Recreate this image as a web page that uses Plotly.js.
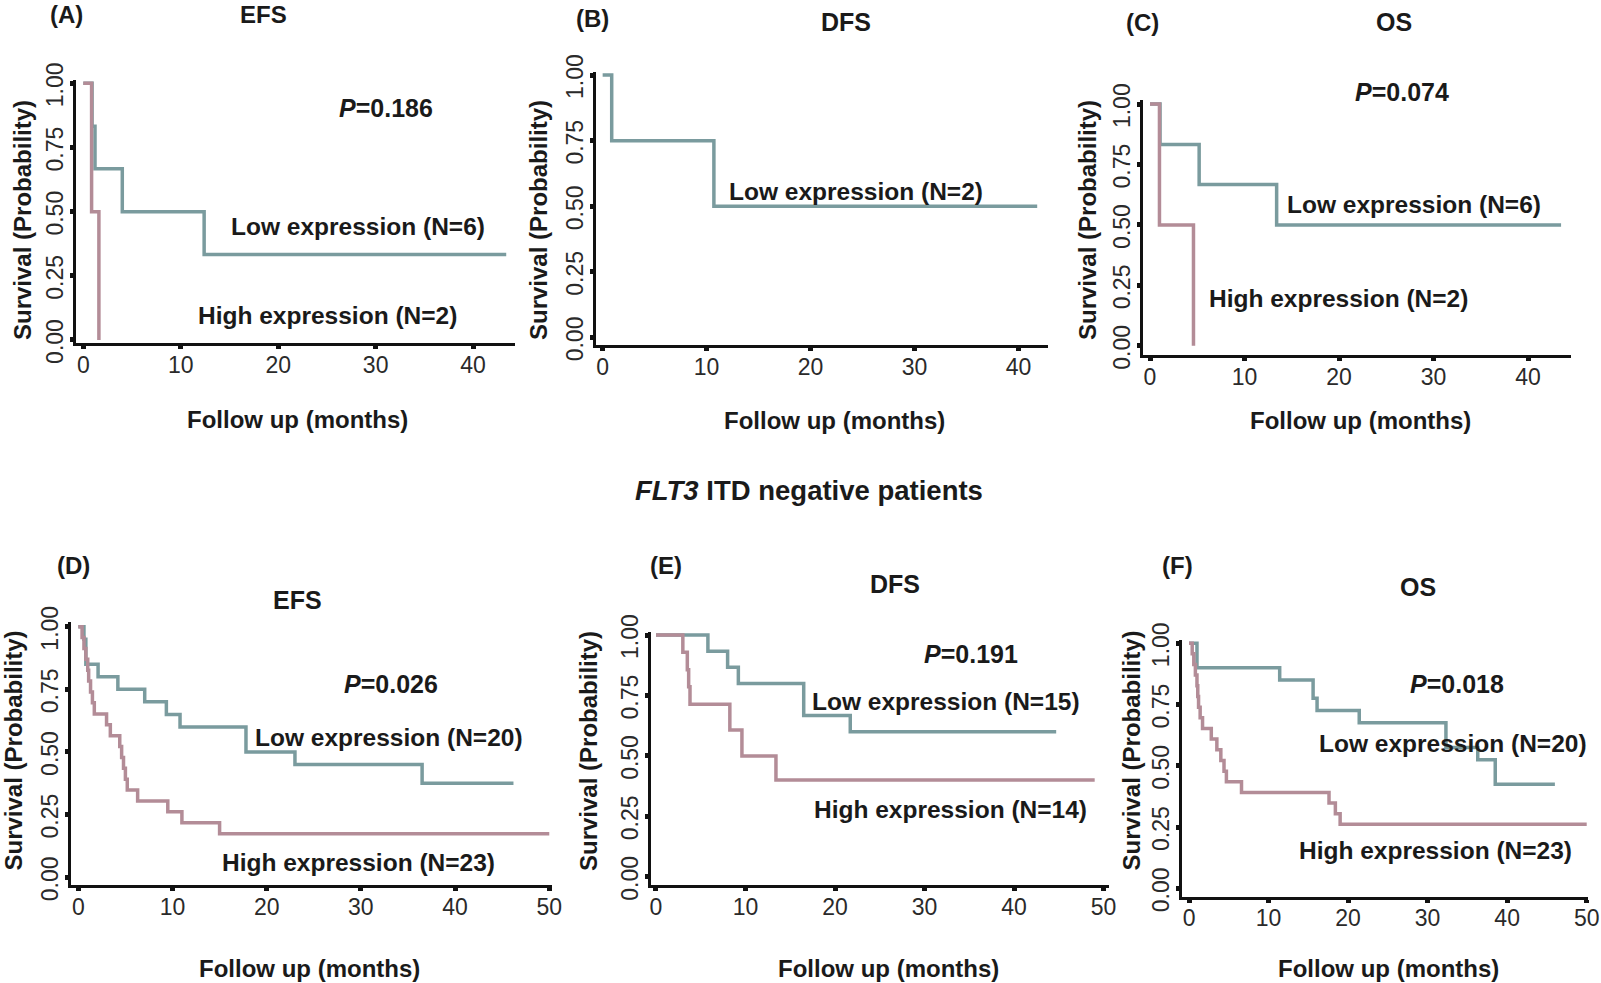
<!DOCTYPE html>
<html>
<head>
<meta charset="utf-8">
<script src="https://cdn.plot.ly/plotly-3.0.1.min.js"></script>
<style>
  html, body { margin: 0; padding: 0; background: #ffffff; }
  #chart { width: 1601px; height: 983px; }
</style>
</head>
<body>
<div id="chart"></div>
<script>
// Kaplan-Meier steps: follow up (months) and survival probability.
// (A) EFS, FLT3 ITD positive
const efsPosLowX = [0, 0.9, 1.2, 4.0, 12.4, 43.4];
const efsPosLowY = [1, 0.833, 0.667, 0.5, 0.333, 0.333];
const efsPosHighX = [0, 0.85, 1.6];
const efsPosHighY = [1, 0.5, 0];
// (B) DFS, FLT3 ITD positive
const dfsPosLowX = [0, 0.87, 10.7, 41.8];
const dfsPosLowY = [1, 0.75, 0.5, 0.5];
// (C) OS, FLT3 ITD positive
const osPosLowX = [0, 1.06, 5.2, 13.4, 43.5];
const osPosLowY = [1, 0.833, 0.667, 0.5, 0.5];
const osPosHighX = [0, 1.0, 4.6];
const osPosHighY = [1, 0.5, 0];
// (D) EFS, FLT3 ITD negative
const efsNegLowX = [0, 0.6, 0.8, 2.1, 4.2, 7.05, 9.35, 10.8, 17.8, 23.0, 36.5, 46.2];
const efsNegLowY = [1, 0.95, 0.85, 0.80, 0.75, 0.70, 0.65, 0.60, 0.50, 0.45, 0.375, 0.375];
const efsNegHighX = [0, 0.4, 0.6, 0.8, 1.0, 1.1, 1.3, 1.5, 1.7, 3.0, 3.4, 4.4, 4.6, 4.8, 5.0, 5.2, 6.3, 9.5, 11.0, 15.0, 50.0];
const efsNegHighY = [1, 0.957, 0.913, 0.870, 0.826, 0.783, 0.739, 0.696, 0.652, 0.609, 0.565, 0.522, 0.478, 0.435, 0.391, 0.348, 0.304, 0.261, 0.217, 0.174, 0.174];
// (E) DFS, FLT3 ITD negative
const dfsNegLowX = [0, 5.8, 8.0, 9.2, 16.5, 21.7, 44.7];
const dfsNegLowY = [1, 0.933, 0.867, 0.80, 0.667, 0.60, 0.60];
const dfsNegHighX = [0, 3.0, 3.5, 3.65, 3.8, 8.25, 9.6, 13.4, 49.0];
const dfsNegHighY = [1, 0.929, 0.857, 0.786, 0.714, 0.607, 0.50, 0.40, 0.40];
// (F) OS, FLT3 ITD negative
const osNegLowX = [0, 1.0, 11.4, 15.6, 16.1, 21.4, 32.3, 36.3, 38.5, 46.0];
const osNegLowY = [1, 0.9, 0.85, 0.775, 0.725, 0.675, 0.575, 0.525, 0.425, 0.425];
const osNegHighX = [0, 0.4, 0.6, 0.8, 1.0, 1.1, 1.2, 1.4, 1.7, 2.8, 3.5, 4.0, 4.4, 4.7, 6.6, 17.6, 18.4, 19.0, 50.0];
const osNegHighY = [1, 0.957, 0.913, 0.870, 0.826, 0.783, 0.739, 0.696, 0.652, 0.609, 0.565, 0.522, 0.478, 0.435, 0.391, 0.348, 0.304, 0.261, 0.261];

const xTicks40 = [0, 10, 20, 30, 40];
const xTicks50 = [0, 10, 20, 30, 40, 50];
const yTicks = [0, 0.25, 0.5, 0.75, 1];

const W = 1601, H = 983;
const fx = p => p / W;
const fy = p => 1 - p / H;

const LOW_COLOR = '#7a9b9e';
const HIGH_COLOR = '#b38c97';
const FONT = 'Liberation Sans, Arial, sans-serif';

// Axis boxes in pixels [left, right, top, bottom] and the ranges they show.
const panels = [
    { id: '', box: [76, 515, 80, 343.3], xr: [-0.75, 44.3], yr: [-0.013, 1.013], ticks: xTicks40,
      series: [[efsPosLowX, efsPosLowY, LOW_COLOR], [efsPosHighX, efsPosHighY, HIGH_COLOR]] },
    { id: '2', box: [596, 1047.6, 71.7, 345], xr: [-0.64, 42.8], yr: [-0.029, 1.013], ticks: xTicks40,
      series: [[dfsPosLowX, dfsPosLowY, LOW_COLOR]] },
    { id: '3', box: [1143.3, 1571, 100, 355], xr: [-0.71, 44.55], yr: [-0.038, 1.017], ticks: xTicks40,
      series: [[osPosLowX, osPosLowY, LOW_COLOR], [osPosHighX, osPosHighY, HIGH_COLOR]] },
    { id: '4', box: [70.7, 552, 621.7, 885], xr: [-0.807, 50.29], yr: [-0.031, 1.02], ticks: xTicks50,
      series: [[efsNegLowX, efsNegLowY, LOW_COLOR], [efsNegHighX, efsNegHighY, HIGH_COLOR]] },
    { id: '5', box: [650.7, 1109, 631.7, 885], xr: [-0.59, 50.6], yr: [-0.034, 1.014], ticks: xTicks50,
      series: [[dfsNegLowX, dfsNegLowY, LOW_COLOR], [dfsNegHighX, dfsNegHighY, HIGH_COLOR]] },
    { id: '6', box: [1181.7, 1588.3, 640, 896.7], xr: [-0.92, 50.2], yr: [-0.034, 1.013], ticks: xTicks50,
      series: [[osNegLowX, osNegLowY, LOW_COLOR], [osNegHighX, osNegHighY, HIGH_COLOR]] }
];

const traces = [];
const layout = {
    width: W, height: H,
    margin: { l: 0, r: 0, t: 0, b: 0 },
    paper_bgcolor: '#ffffff', plot_bgcolor: '#ffffff',
    showlegend: false,
    font: { family: FONT, color: '#1a1a1a' },
    annotations: []
};

panels.forEach(p => {
    const [l, r, t, b] = p.box;
    p.series.forEach(([x, y, color]) => traces.push({
        x: x, y: y, xaxis: 'x' + p.id, yaxis: 'y' + p.id,
        type: 'scatter', mode: 'lines',
        line: { shape: 'hv', color: color, width: 3.5 },
        hoverinfo: 'skip'
    }));
    layout['xaxis' + p.id] = {
        domain: [fx(l), fx(r)], range: p.xr, anchor: 'y' + p.id,
        showline: true, linecolor: '#111', linewidth: 3,
        showgrid: false, zeroline: false,
        tickvals: p.ticks, ticks: 'outside', ticklen: 3, tickwidth: 5, tickcolor: '#111',
        ticklabelstandoff: -4,
        tickfont: { family: FONT, size: 23, color: '#2a2a2a' }, fixedrange: true
    };
    layout['yaxis' + p.id] = {
        domain: [fy(b), fy(t)], range: p.yr, anchor: 'x' + p.id,
        showline: true, linecolor: '#111', linewidth: 3,
        showgrid: false, zeroline: false,
        tickvals: yTicks, tickformat: '.2f', tickangle: -90,
        ticks: 'outside', ticklen: 3, tickwidth: 5, tickcolor: '#111',
        ticklabelstandoff: -2, ticklabelshift: 5,
        tickfont: { family: FONT, size: 23, color: '#2a2a2a' }, fixedrange: true
    };
});

// Text placed in pixel coordinates of the reference.
function label(text, x, y, size, angle) {
    layout.annotations.push({
        text: text, x: fx(x), y: fy(y), xref: 'paper', yref: 'paper',
        xanchor: 'center', yanchor: 'middle', showarrow: false,
        textangle: angle || 0,
        font: { family: FONT, size: size || 24.5, color: '#1a1a1a' }
    });
}

const XT = '<b>Follow up (months)</b>';
const YT = '<b>Survival (Probability)</b>';

label('<b>(A)</b>', 66, 15, 24); label('<b>EFS</b>', 263, 15, 24);
label('<b><i>P</i>=0.186</b>', 386, 108, 25);
label('<b>Low expression (N=6)</b>', 357.5, 226);
label('<b>High expression (N=2)</b>', 327, 315);
label(XT, 297, 419, 24); label(YT, 22, 220, 24, -90);

label('<b>(B)</b>', 592, 18, 24); label('<b>DFS</b>', 846, 22.5, 25);
label('<b>Low expression (N=2)</b>', 856, 192);
label(XT, 834, 420, 24); label(YT, 538, 220, 24, -90);

label('<b>(C)</b>', 1142, 22.5, 24); label('<b>OS</b>', 1394, 22.5, 25);
label('<b><i>P</i>=0.074</b>', 1402, 92, 25);
label('<b>Low expression (N=6)</b>', 1414, 204);
label('<b>High expression (N=2)</b>', 1338, 299);
label(XT, 1360, 420, 24); label(YT, 1087, 220, 24, -90);

label('<b><i>FLT3</i> ITD negative patients</b>', 809, 491, 27.5);

label('<b>(D)</b>', 73.5, 565, 24); label('<b>EFS</b>', 297, 600, 25);
label('<b><i>P</i>=0.026</b>', 391, 684, 25);
label('<b>Low expression (N=20)</b>', 389, 737.5);
label('<b>High expression (N=23)</b>', 358.5, 862);
label(XT, 309.5, 968, 24); label(YT, 12.5, 751, 24, -90);

label('<b>(E)</b>', 666, 565, 24); label('<b>DFS</b>', 895, 584, 25);
label('<b><i>P</i>=0.191</b>', 971.5, 654, 25);
label('<b>Low expression (N=15)</b>', 946, 701);
label('<b>High expression (N=14)</b>', 950, 809);
label(XT, 888, 968, 24); label(YT, 588, 751, 24, -90);

label('<b>(F)</b>', 1177, 565, 24); label('<b>OS</b>', 1418, 587, 25);
label('<b><i>P</i>=0.018</b>', 1457, 684, 25);
label('<b>Low expression (N=20)</b>', 1453, 743);
label('<b>High expression (N=23)</b>', 1435, 850);
label(XT, 1388, 968, 24); label(YT, 1130.5, 751, 24, -90);

Plotly.newPlot(document.getElementById('chart'), traces, layout, { displayModeBar: false, staticPlot: true });
</script>
</body>
</html>
